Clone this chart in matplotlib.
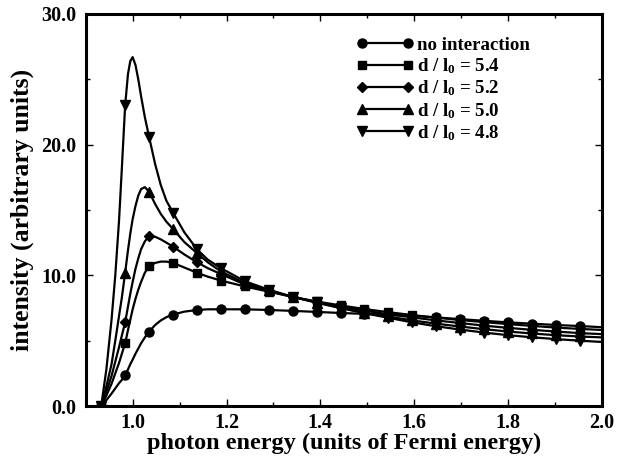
import numpy as np
import matplotlib
matplotlib.use("Agg")
import matplotlib.pyplot as plt
from matplotlib.ticker import MultipleLocator, FormatStrFormatter

plt.rcParams['font.family'] = ['Liberation Serif', 'DejaVu Serif']
plt.rcParams['font.weight'] = 'bold'
plt.rcParams['mathtext.fontset'] = 'custom'
plt.rcParams['mathtext.rm'] = 'Liberation Serif:bold'
plt.rcParams['mathtext.it'] = 'Liberation Serif:bold'
plt.rcParams['mathtext.bf'] = 'Liberation Serif:bold'

# photon energy grid (units of Fermi energy)
energy = [0.933, 0.944, 0.955, 0.963, 0.971, 0.977, 0.984, 0.990, 0.995, 1.000,
          1.006, 1.012, 1.018, 1.026, 1.035, 1.048, 1.060, 1.072, 1.086, 1.110,
          1.137, 1.160, 1.188, 1.239, 1.290, 1.341, 1.392, 1.443, 1.494, 1.545,
          1.596, 1.647, 1.698, 1.749, 1.800, 1.851, 1.902, 1.953, 2.000]

# energies where symbols are drawn
marker_energy = [0.933, 0.984, 1.035, 1.086, 1.137, 1.188, 1.239, 1.290, 1.341,
                 1.392, 1.443, 1.494, 1.545, 1.596, 1.647, 1.698, 1.749, 1.800,
                 1.851, 1.902, 1.953]

no_interaction = [0.0, 0.45, 0.95, 1.35, 1.75, 2.0, 2.35, 2.8, 3.2, 3.55,
                  4.0, 4.4, 4.8, 5.25, 5.7, 6.2, 6.55, 6.8, 7.0, 7.22,
                  7.35, 7.4, 7.4, 7.4, 7.35, 7.28, 7.2, 7.12, 7.05, 6.98,
                  6.9, 6.78, 6.65, 6.52, 6.4, 6.3, 6.2, 6.12, 6.03]

d_l0_54 = [0.0, 0.8, 1.7, 2.5, 3.3, 4.0, 4.8, 5.8, 6.6, 7.4,
           8.2, 8.9, 9.5, 10.2, 10.7, 10.95, 11.05, 11.05, 10.95, 10.6,
           10.2, 9.9, 9.6, 9.15, 8.75, 8.35, 8.0, 7.7, 7.42, 7.18,
           6.96, 6.76, 6.58, 6.42, 6.27, 6.13, 6.0, 5.9, 5.82]

d_l0_52 = [0.0, 1.1, 2.3, 3.4, 4.5, 5.4, 6.4, 7.6, 8.6, 9.5,
           10.5, 11.3, 12.0, 12.6, 13.0, 12.95, 12.75, 12.5, 12.2, 11.6,
           11.0, 10.55, 10.1, 9.3, 8.8, 8.35, 7.95, 7.6, 7.3, 7.02,
           6.78, 6.55, 6.35, 6.15, 5.98, 5.83, 5.7, 5.58, 5.5]

d_l0_50 = [0.0, 1.5, 3.2, 5.0, 6.9, 8.3, 10.2, 11.9, 13.2, 14.3,
           15.3, 16.1, 16.6, 16.75, 16.4, 15.45, 14.7, 14.1, 13.55, 12.55,
           11.7, 11.0, 10.3, 9.4, 8.85, 8.35, 7.9, 7.5, 7.15, 6.85,
           6.55, 6.3, 6.08, 5.88, 5.7, 5.55, 5.42, 5.32, 5.25]

d_l0_48 = [0.0, 2.8, 6.6, 10.0, 14.2, 18.2, 23.0, 25.4, 26.4, 26.7,
           26.1, 25.0, 23.7, 22.1, 20.6, 18.5, 16.9, 15.7, 14.8, 13.3,
           12.0, 11.2, 10.55, 9.55, 8.9, 8.35, 7.95, 7.5, 7.1, 6.75,
           6.4, 6.1, 5.85, 5.62, 5.42, 5.26, 5.12, 5.0, 4.9]

series = [
    ("no interaction", no_interaction, "o"),
    (r"d / l$_{0}$ = 5.4", d_l0_54, "s"),
    (r"d / l$_{0}$ = 5.2", d_l0_52, "D"),
    (r"d / l$_{0}$ = 5.0", d_l0_50, "^"),
    (r"d / l$_{0}$ = 4.8", d_l0_48, "v"),
]
msizes = {"o": 6.5, "s": 6.0, "D": 5.0, "^": 7.0, "v": 7.0}

fig = plt.figure(figsize=(6.28, 4.58), dpi=100)
ax = fig.add_axes([0.1365, 0.1135, 0.822, 0.856])

x = np.array(energy)
mk_idx = list(np.nonzero(np.isin(x, marker_energy))[0])
for label, y, m in series:
    ax.plot(x, y, color="black", lw=1.6, marker=m, ms=msizes[m],
            markevery=mk_idx, label=label)

ax.set_xlim(0.9, 2.0)
ax.set_ylim(0, 30)
ax.xaxis.set_major_locator(MultipleLocator(0.2))
ax.xaxis.set_minor_locator(MultipleLocator(0.1))
ax.yaxis.set_major_locator(MultipleLocator(10))
ax.yaxis.set_minor_locator(MultipleLocator(5))
ax.xaxis.set_major_formatter(FormatStrFormatter('%.1f'))
ax.yaxis.set_major_formatter(FormatStrFormatter('%.1f'))
ax.tick_params(which='both', direction='in', top=True, right=True, width=1.0)
ax.tick_params(which='major', length=5, labelsize=14.5)
ax.tick_params(axis='x', which='major', pad=5)
ax.tick_params(axis='y', which='major', pad=7)
ax.tick_params(which='minor', length=3)
for lab in ax.get_xticklabels() + ax.get_yticklabels():
    lab.set_fontweight('bold')
for sp in ax.spines.values():
    sp.set_linewidth(2.2)

ax.set_xlabel("photon energy (units of Fermi energy)", fontsize=17.5,
              fontweight='bold', labelpad=0)
ax.set_ylabel("intensity (arbitrary units)", fontsize=18.5,
              fontweight='bold', labelpad=5)

leg = ax.legend(loc='upper left', bbox_to_anchor=(0.492, 0.985), frameon=False,
                numpoints=2, handlelength=3.0, handletextpad=0.2,
                labelspacing=0.13, prop={'family': 'Liberation Serif',
                                         'weight': 'bold', 'size': 13.6})

fig.savefig("out.png", dpi=100)
